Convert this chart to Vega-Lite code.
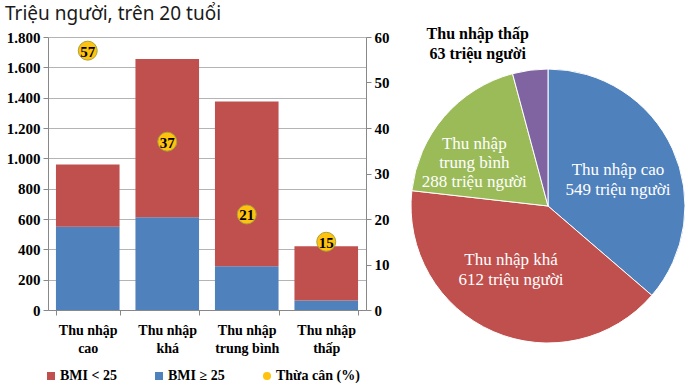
{
  "$schema": "https://vega.github.io/schema/vega-lite/v6.json",
  "background": "white",
  "padding": {"left": 5, "top": 5, "right": 0, "bottom": 0},
  "title": {"text": "Triệu người, trên 20 tuổi", "anchor": "start", "frame": "group", "dx": -43, "offset": 2, "font": "Noto Sans", "fontSize": 19, "fontWeight": "normal", "color": "#1a1a1a"},
  "bounds": "flush",
  "spacing": 45,
  "datasets": {
    "bmi": [
      {"Nhom": "Thu nhập cao", "BMI": "BMI ≥ 25", "Trieu": 549},
      {"Nhom": "Thu nhập cao", "BMI": "BMI < 25", "Trieu": 411},
      {"Nhom": "Thu nhập khá", "BMI": "BMI ≥ 25", "Trieu": 612},
      {"Nhom": "Thu nhập khá", "BMI": "BMI < 25", "Trieu": 1043},
      {"Nhom": "Thu nhập trung bình", "BMI": "BMI ≥ 25", "Trieu": 288},
      {"Nhom": "Thu nhập trung bình", "BMI": "BMI < 25", "Trieu": 1087},
      {"Nhom": "Thu nhập thấp", "BMI": "BMI ≥ 25", "Trieu": 63},
      {"Nhom": "Thu nhập thấp", "BMI": "BMI < 25", "Trieu": 357}
    ],
    "thuacan": [
      {"Nhom": "Thu nhập cao", "ThuaCan": 57},
      {"Nhom": "Thu nhập khá", "ThuaCan": 37},
      {"Nhom": "Thu nhập trung bình", "ThuaCan": 21},
      {"Nhom": "Thu nhập thấp", "ThuaCan": 15}
    ],
    "pie": [
      {"Nhom": "Thu nhập cao", "Trieu": 549, "Label": "Thu nhập cao\n549 triệu người"},
      {"Nhom": "Thu nhập khá", "Trieu": 612, "Label": "Thu nhập khá\n612 triệu người"},
      {"Nhom": "Thu nhập trung bình", "Trieu": 288, "Label": "Thu nhập\ntrung bình\n288 triệu người"},
      {"Nhom": "Thu nhập thấp", "Trieu": 63, "Label": "Thu nhập thấp\n63 triệu người"}
    ]
  },
  "hconcat": [
    {
      "width": 318,
      "height": 273,
      "layer": [
        {
          "data": {"name": "bmi"},
          "mark": {"type": "bar"},
          "encoding": {
            "x": {
              "field": "Nhom", "type": "nominal",
              "sort": ["Thu nhập cao", "Thu nhập khá", "Thu nhập trung bình", "Thu nhập thấp"],
              "scale": {"paddingInner": 0.2, "paddingOuter": 0.1},
              "axis": {
                "title": null, "labelAngle": 0,
                "labelExpr": "datum.label ? ['Thu nhập', slice(datum.label, 9)] : ''",
                "labelFont": "Liberation Serif", "labelFontWeight": "bold", "labelFontSize": 14,
                "labelColor": "black", "labelLineHeight": 18, "labelPadding": 8,
                "tickBand": "extent", "tickSize": 5, "tickColor": "#888888",
                "domainColor": "#888888", "grid": false
              }
            },
            "y": {
              "field": "Trieu", "type": "quantitative", "stack": "zero",
              "scale": {"domain": [0, 1800]},
              "axis": {
                "title": null,
                "values": [0, 200, 400, 600, 800, 1000, 1200, 1400, 1600, 1800],
                "labelExpr": "replace(format(datum.value, ','), ',', '.')",
                "labelFont": "Liberation Serif", "labelFontWeight": "bold", "labelFontSize": 15,
                "labelColor": "black", "labelPadding": 3,
                "tickSize": 5, "tickColor": "#888888", "domainColor": "#888888",
                "grid": true, "gridColor": "#B4B4B4"
              }
            },
            "color": {
              "field": "BMI", "type": "nominal",
              "scale": {"domain": ["BMI < 25", "BMI ≥ 25", "Thừa cân (%)"], "range": ["#C0504D", "#4F81BD", "#FFC20E"]},
              "legend": {
                "title": null, "orient": "none", "legendX": -4, "legendY": 332,
                "direction": "horizontal", "columnPadding": 35,
                "symbolSize": 64, "labelOffset": 2,
                "labelFont": "Liberation Serif", "labelFontWeight": "bold", "labelFontSize": 14, "labelColor": "black",
                "symbolStrokeWidth": 0,
                "encode": {"symbols": {"update": {"shape": {"signal": "datum.label === 'Thừa cân (%)' ? 'circle' : 'square'"}}}}
              }
            },
            "order": {"field": "BMI", "sort": "descending"}
          }
        },
        {
          "data": {"name": "thuacan"},
          "encoding": {
            "x": {"field": "Nhom", "type": "nominal", "sort": ["Thu nhập cao", "Thu nhập khá", "Thu nhập trung bình", "Thu nhập thấp"]},
            "y": {
              "field": "ThuaCan", "type": "quantitative",
              "scale": {"domain": [0, 60]},
              "axis": {
                "orient": "right", "title": null,
                "values": [0, 10, 20, 30, 40, 50, 60],
                "labelFont": "Liberation Serif", "labelFontWeight": "bold", "labelFontSize": 15,
                "labelColor": "black", "labelPadding": 3,
                "tickSize": 5, "tickColor": "#888888", "domainColor": "#888888", "grid": false
              }
            }
          },
          "layer": [
            {
              "mark": {"type": "point", "filled": true, "size": 360, "stroke": "#A9A23C", "strokeWidth": 1, "opacity": 1},
              "encoding": {"color": {"datum": "Thừa cân (%)"}}
            },
            {
              "mark": {"type": "text", "font": "Liberation Serif", "fontWeight": "bold", "fontSize": 15, "color": "black", "baseline": "middle", "dy": 1},
              "encoding": {"text": {"field": "ThuaCan", "type": "quantitative"}}
            }
          ]
        }
      ],
      "resolve": {"scale": {"y": "independent"}}
    },
    {
      "width": 274,
      "height": 338,
      "data": {"name": "pie"},
      "transform": [{"window": [{"op": "row_number", "as": "thutu"}]}],
      "encoding": {
        "theta": {"field": "Trieu", "type": "quantitative", "stack": true},
        "order": {"field": "thutu", "type": "quantitative", "sort": "ascending"}
      },
      "layer": [
        {
          "mark": {"type": "arc", "stroke": "white", "strokeWidth": 1},
          "encoding": {
            "color": {
              "field": "Nhom", "type": "nominal",
              "scale": {"domain": ["Thu nhập cao", "Thu nhập khá", "Thu nhập trung bình", "Thu nhập thấp"], "range": ["#4F81BD", "#C0504D", "#9BBB59", "#8064A2"]},
              "legend": null
            }
          }
        },
        {
          "mark": {"type": "text", "radius": 77, "dy": -4, "lineBreak": "\n", "font": "Liberation Serif", "fontSize": 17, "lineHeight": 20, "color": "white", "align": "center", "baseline": "middle"},
          "encoding": {"text": {"condition": {"test": "datum.Nhom === 'Thu nhập cao'", "field": "Label"}, "value": ""}}
        },
        {
          "mark": {"type": "text", "radius": 70, "dx": -9, "dy": -10, "lineBreak": "\n", "font": "Liberation Serif", "fontSize": 17, "lineHeight": 20, "color": "white", "align": "center", "baseline": "middle"},
          "encoding": {"text": {"condition": {"test": "datum.Nhom === 'Thu nhập khá'", "field": "Label"}, "value": ""}}
        },
        {
          "mark": {"type": "text", "radius": 88, "dx": -7, "dy": -5, "lineBreak": "\n", "font": "Liberation Serif", "fontSize": 17, "lineHeight": 19, "color": "white", "align": "center", "baseline": "middle"},
          "encoding": {"text": {"condition": {"test": "datum.Nhom === 'Thu nhập trung bình'", "field": "Label"}, "value": ""}}
        },
        {
          "mark": {"type": "text", "radius": 163, "dx": -49, "dy": -10, "lineBreak": "\n", "font": "Liberation Serif", "fontWeight": "bold", "fontSize": 16, "lineHeight": 20, "color": "black", "align": "center", "baseline": "middle"},
          "encoding": {"text": {"condition": {"test": "datum.Nhom === 'Thu nhập thấp'", "field": "Label"}, "value": ""}}
        }
      ]
    }
  ],
  "resolve": {"scale": {"color": "independent"}, "legend": {"color": "independent"}},
  "config": {"view": {"stroke": null}}
}
